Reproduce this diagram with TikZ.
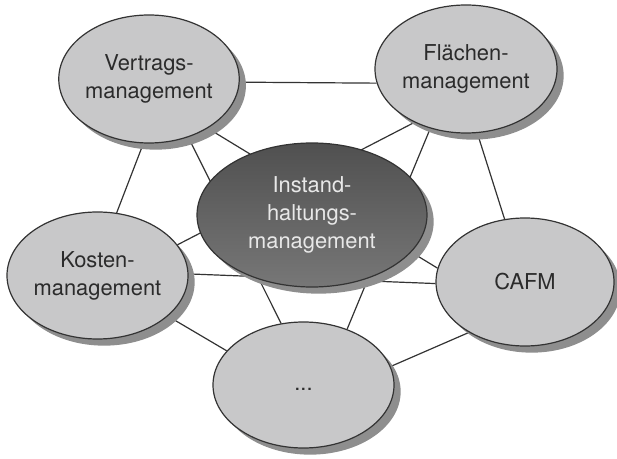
\documentclass[tikz,border=0pt]{standalone}
\usepackage{fontspec}
\setmainfont{TeX Gyre Heros}
\usetikzlibrary{shapes.geometric,shadows}
\pgfdeclarelayer{background}
\pgfsetlayers{background,main}
\definecolor{nodefill}{HTML}{C8C8C9}
\definecolor{shadowgray}{HTML}{8E8E8E}
\definecolor{edgegray}{HTML}{333333}
\definecolor{textdark}{HTML}{2B2B2B}
\definecolor{centertop}{HTML}{505050}
\definecolor{centerbot}{HTML}{777777}
\definecolor{centertext}{HTML}{E8E8E8}
\begin{document}
\begin{tikzpicture}[x=0.75pt,y=-0.75pt,
  bubble/.style={ellipse, draw=edgegray, line width=0.9pt, inner sep=0pt,
    align=center, font=\fontsize{16.4}{21}\selectfont,
    drop shadow={shadow xshift=5pt, shadow yshift=-5pt, fill=shadowgray, opacity=1}},
  outer/.style={bubble, fill=nodefill, text=textdark},
  hub/.style={bubble, top color=centertop, bottom color=centerbot, text=centertext},
  link/.style={draw=edgegray, line width=0.9pt}]
\useasboundingbox (0,0) rectangle (617,459);

\node[outer, minimum width=135pt, minimum height=96pt] (V) at (149,79) {Vertrags-\\management};
\node[outer, minimum width=136.5pt, minimum height=96pt] (F) at (466,69) {Flächen-\\management};
\node[hub, minimum width=172.5pt, minimum height=108pt] (C) at (312,215) {Instand-\\haltungs-\\management};
\node[outer, minimum width=135.75pt, minimum height=95.25pt] (K) at (97.5,275.5) {Kosten-\\management};
\node[outer, minimum width=133.5pt, minimum height=96pt] (A) at (525,282) {CAFM};
\node[outer, minimum width=135.75pt, minimum height=94.5pt] (D) at (303.5,385) {\vphantom{Ag}...};

\begin{pgfonlayer}{background}
\draw[link] (V.-2.5) -- (F.189);
\draw[link] (V.-95.6) -- (K.73);
\draw[link] (V.-56.1) -- (D.110.7);
\draw[link] (V.-40.4) -- (A.171.2);
\draw[link] (F.-134.8) -- (K.21);
\draw[link] (F.-121.5) -- (D.52.7);
\draw[link] (F.-80.4) -- (A.108.7);
\draw[link] (A.-138.5) -- (D.12.4);
\draw[link] (K.-30.5) -- (D.156.7);
\draw[link] (K.1.2) -- (A.181.3);
\end{pgfonlayer}
\end{tikzpicture}
\end{document}
